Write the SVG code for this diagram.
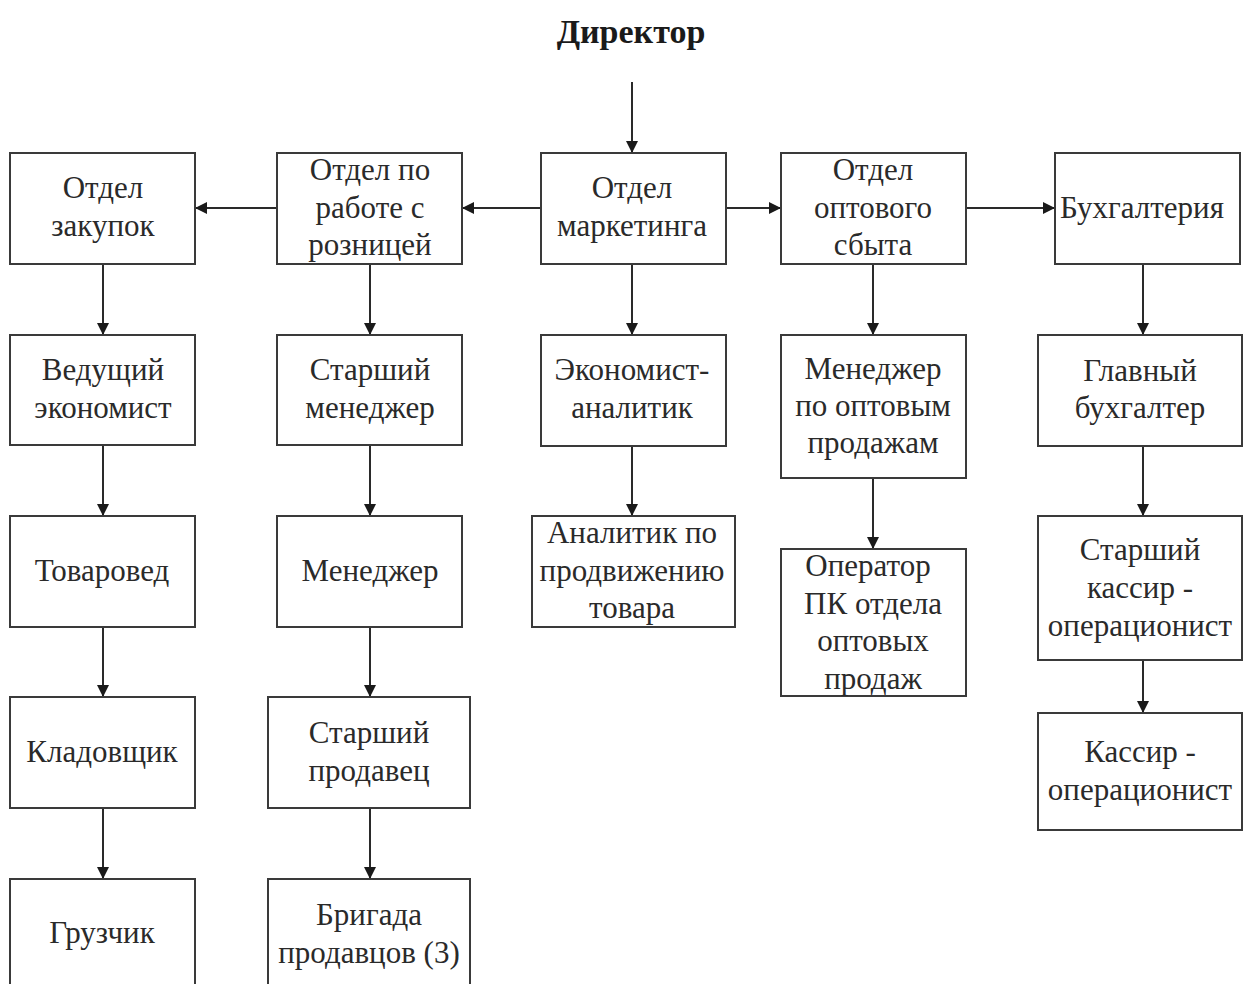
<svg xmlns="http://www.w3.org/2000/svg" width="1243" height="984" viewBox="0 0 1243 984">
  <style>
    .box { fill: #ffffff; stroke: #3a3a3a; stroke-width: 2; }
    .lbl { font-family: "Liberation Serif", "Times New Roman", serif; font-size: 31px; fill: #2a2a2a; text-anchor: middle; }
    .title { font-family: "Liberation Serif", "Times New Roman", serif; font-size: 34px; font-weight: bold; fill: #1a1a1a; text-anchor: middle; }
    .wire { stroke: #2a2a2a; stroke-width: 2; fill: none; marker-end: url(#head); }
  </style>
  <defs>
    <marker id="head" viewBox="0 0 12 12" refX="12" refY="6" markerWidth="12" markerHeight="12" markerUnits="userSpaceOnUse" orient="auto">
      <path d="M0,0 L12,6 L0,12 Z" fill="#1a1a1a"/>
    </marker>
  </defs>
  <rect width="1243" height="984" fill="#ffffff"/>

  <g id="director">
    <text class="title" x="631" y="43">Директор</text>
  </g>

  <g id="connectors">
    <line class="wire" x1="632" y1="82" x2="632" y2="153"/>
    <line class="wire" x1="541" y1="208" x2="462" y2="208"/>
    <line class="wire" x1="277" y1="208" x2="195" y2="208"/>
    <line class="wire" x1="726" y1="208" x2="781" y2="208"/>
    <line class="wire" x1="966" y1="208" x2="1055" y2="208"/>
    <!-- purchasing column -->
    <line class="wire" x1="103" y1="264" x2="103" y2="335"/>
    <line class="wire" x1="103" y1="445" x2="103" y2="516"/>
    <line class="wire" x1="103" y1="627" x2="103" y2="697"/>
    <line class="wire" x1="103" y1="808" x2="103" y2="879"/>
    <!-- retail column -->
    <line class="wire" x1="370" y1="264" x2="370" y2="335"/>
    <line class="wire" x1="370" y1="445" x2="370" y2="516"/>
    <line class="wire" x1="370" y1="627" x2="370" y2="697"/>
    <line class="wire" x1="370" y1="808" x2="370" y2="879"/>
    <!-- marketing column -->
    <line class="wire" x1="632" y1="264" x2="632" y2="335"/>
    <line class="wire" x1="632" y1="446" x2="632" y2="516"/>
    <!-- wholesale column -->
    <line class="wire" x1="873" y1="264" x2="873" y2="335"/>
    <line class="wire" x1="873" y1="478" x2="873" y2="549"/>
    <!-- accounting column -->
    <line class="wire" x1="1143" y1="264" x2="1143" y2="335"/>
    <line class="wire" x1="1143" y1="446" x2="1143" y2="516"/>
    <line class="wire" x1="1143" y1="660" x2="1143" y2="713"/>
  </g>

  <g id="purchasing">
    <rect class="box" x="10" y="153" width="185" height="111"/>
    <text class="lbl" x="103" y="198">Отдел</text>
    <text class="lbl" x="103" y="236">закупок</text>
  </g>
  <g id="retail">
    <rect class="box" x="277" y="153" width="185" height="111"/>
    <text class="lbl" x="370" y="180">Отдел по</text>
    <text class="lbl" x="370" y="218">работе с</text>
    <text class="lbl" x="370" y="255">розницей</text>
  </g>
  <g id="marketing">
    <rect class="box" x="541" y="153" width="185" height="111"/>
    <text class="lbl" x="632" y="198">Отдел</text>
    <text class="lbl" x="632" y="236">маркетинга</text>
  </g>
  <g id="wholesale">
    <rect class="box" x="781" y="153" width="185" height="111"/>
    <text class="lbl" x="873" y="180">Отдел</text>
    <text class="lbl" x="873" y="218">оптового</text>
    <text class="lbl" x="873" y="255">сбыта</text>
  </g>
  <g id="accounting">
    <rect class="box" x="1055" y="153" width="185" height="111"/>
    <text class="lbl" x="1142" y="218">Бухгалтерия</text>
  </g>

  <g id="lead-economist">
    <rect class="box" x="10" y="335" width="185" height="110"/>
    <text class="lbl" x="103" y="380">Ведущий</text>
    <text class="lbl" x="103" y="418">экономист</text>
  </g>
  <g id="senior-manager">
    <rect class="box" x="277" y="335" width="185" height="110"/>
    <text class="lbl" x="370" y="380">Старший</text>
    <text class="lbl" x="370" y="418">менеджер</text>
  </g>
  <g id="economist-analyst">
    <rect class="box" x="541" y="335" width="185" height="111"/>
    <text class="lbl" x="632" y="380">Экономист-</text>
    <text class="lbl" x="632" y="418">аналитик</text>
  </g>
  <g id="wholesale-manager">
    <rect class="box" x="781" y="335" width="185" height="143"/>
    <text class="lbl" x="873" y="379">Менеджер</text>
    <text class="lbl" x="873" y="416">по оптовым</text>
    <text class="lbl" x="873" y="453">продажам</text>
  </g>
  <g id="chief-accountant">
    <rect class="box" x="1038" y="335" width="204" height="111"/>
    <text class="lbl" x="1140" y="381">Главный</text>
    <text class="lbl" x="1140" y="418">бухгалтер</text>
  </g>

  <g id="merchandiser">
    <rect class="box" x="10" y="516" width="185" height="111"/>
    <text class="lbl" x="102" y="581">Товаровед</text>
  </g>
  <g id="manager">
    <rect class="box" x="277" y="516" width="185" height="111"/>
    <text class="lbl" x="370" y="581">Менеджер</text>
  </g>
  <g id="promo-analyst">
    <rect class="box" x="532" y="516" width="203" height="111"/>
    <text class="lbl" x="632" y="543">Аналитик по</text>
    <text class="lbl" x="632" y="581">продвижению</text>
    <text class="lbl" x="632" y="618">товара</text>
  </g>
  <g id="pc-operator">
    <rect class="box" x="781" y="549" width="185" height="147"/>
    <text class="lbl" x="868" y="576">Оператор</text>
    <text class="lbl" x="873" y="614">ПК отдела</text>
    <text class="lbl" x="873" y="651">оптовых</text>
    <text class="lbl" x="873" y="689">продаж</text>
  </g>
  <g id="senior-cashier">
    <rect class="box" x="1038" y="516" width="204" height="144"/>
    <text class="lbl" x="1140" y="560">Старший</text>
    <text class="lbl" x="1140" y="598">кассир -</text>
    <text class="lbl" x="1140" y="636">операционист</text>
  </g>

  <g id="storekeeper">
    <rect class="box" x="10" y="697" width="185" height="111"/>
    <text class="lbl" x="102" y="762">Кладовщик</text>
  </g>
  <g id="senior-seller">
    <rect class="box" x="268" y="697" width="202" height="111"/>
    <text class="lbl" x="369" y="743">Старший</text>
    <text class="lbl" x="369" y="781">продавец</text>
  </g>
  <g id="cashier">
    <rect class="box" x="1038" y="713" width="204" height="117"/>
    <text class="lbl" x="1140" y="762">Кассир -</text>
    <text class="lbl" x="1140" y="800">операционист</text>
  </g>

  <g id="loader">
    <rect class="box" x="10" y="879" width="185" height="120"/>
    <text class="lbl" x="102" y="943">Грузчик</text>
  </g>
  <g id="sales-team">
    <rect class="box" x="268" y="879" width="202" height="120"/>
    <text class="lbl" x="369" y="925">Бригада</text>
    <text class="lbl" x="369" y="963">продавцов (3)</text>
  </g>
</svg>
